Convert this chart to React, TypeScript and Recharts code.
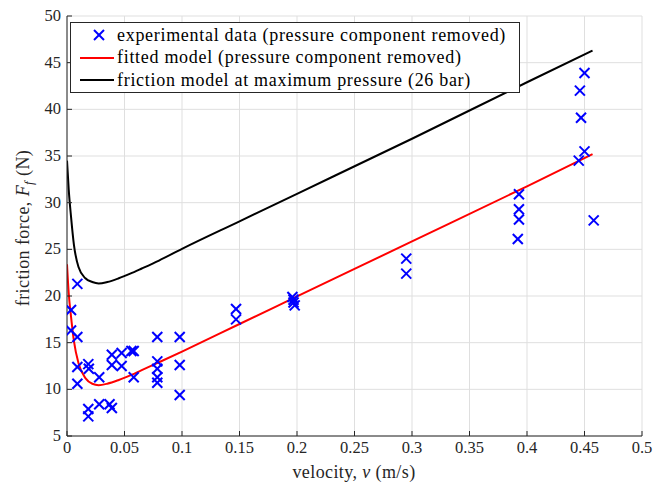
import {
  ComposedChart,
  Scatter,
  Line,
  XAxis,
  YAxis,
  CartesianGrid,
  Legend,
} from "recharts";

const xTicks = [0, 0.05, 0.1, 0.15, 0.2, 0.25, 0.3, 0.35, 0.4, 0.45, 0.5];
const xTickLabels = ["0", "0.05", "0.1", "0.15", "0.2", "0.25", "0.3", "0.35", "0.4", "0.45", "0.5"];
const yTicks = [5, 10, 15, 20, 25, 30, 35, 40, 45, 50];

// experimental data (velocity m/s, force N)
const expV = [
  0.0035, 0.0035, 0.009, 0.009, 0.009, 0.009,
  0.0185, 0.019, 0.0185, 0.0185,
  0.028, 0.028, 0.037, 0.039, 0.039, 0.039,
  0.0475, 0.0475, 0.056, 0.058, 0.058,
  0.0785, 0.0785, 0.0785, 0.0785, 0.0785,
  0.098, 0.098, 0.098,
  0.147, 0.147,
  0.196, 0.197, 0.197, 0.198,
  0.295, 0.295,
  0.393, 0.393, 0.393, 0.392,
  0.45, 0.446, 0.447, 0.45, 0.445, 0.458,
];
const expF = [
  18.5, 16.3, 21.3, 15.6, 12.4, 10.6,
  12.7, 12.2, 7.9, 7.1,
  11.3, 8.4, 8.4, 8.0, 13.7, 12.6,
  13.9, 12.5, 14.1, 14.1, 11.3,
  15.6, 13.0, 12.2, 11.3, 10.7,
  15.6, 12.6, 9.4,
  18.6, 17.5,
  19.9, 19.6, 19.3, 19.0,
  24.0, 22.4,
  30.9, 29.3, 28.2, 26.1,
  43.9, 42.0, 39.1, 35.5, 34.5, 28.1,
];

// model curves
const modelV = [0, 0.0015, 0.0035, 0.006, 0.01, 0.016, 0.022, 0.0275, 0.035, 0.045, 0.055, 0.065, 0.08, 0.1, 0.15, 0.2, 0.3, 0.4, 0.457];
const fittedF = [23.4, 20.3, 17.8, 15.2, 12.8, 11.2, 10.6, 10.45, 10.6, 11.0, 11.5, 12.05, 12.9, 14.05, 17.0, 19.95, 25.85, 31.75, 35.2];
const maxPressF = [34.5, 31.4, 28.5, 25.5, 23.1, 21.9, 21.5, 21.35, 21.5, 21.9, 22.4, 22.95, 23.8, 25.05, 28.0, 30.95, 36.85, 42.9, 46.3];

const expData = expV.map((v, i) => ({ v, f: expF[i] }));
const fittedData = modelV.map((v, i) => ({ v, f: fittedF[i] }));
const maxPressData = modelV.map((v, i) => ({ v, f: maxPressF[i] }));

const FONT = "'Liberation Serif', 'Times New Roman', serif";
const AXIS = "#262626";

const Cross = (props: any) => {
  const { cx, cy } = props;
  const s = 5;
  return (
    <g stroke="#0000ff" strokeWidth={2}>
      <line x1={cx - s} y1={cy - s} x2={cx + s} y2={cy + s} />
      <line x1={cx - s} y1={cy + s} x2={cx + s} y2={cy - s} />
    </g>
  );
};

const XTick = (props: any) => {
  const { x, y, payload } = props;
  const i = xTicks.indexOf(payload.value);
  return (
    <g>
      <line x1={x} y1={y} x2={x} y2={y - 5} stroke={AXIS} />
      <text x={x} y={y + 17} textAnchor="middle" fontFamily={FONT} fontSize={16.5} fill={AXIS}>
        {i >= 0 ? xTickLabels[i] : payload.value}
      </text>
    </g>
  );
};

const YTick = (props: any) => {
  const { x, y, payload } = props;
  return (
    <g>
      <line x1={x} y1={y} x2={x + 5} y2={y} stroke={AXIS} />
      <text x={x - 6} y={y + 5} textAnchor="end" fontFamily={FONT} fontSize={16.5} fill={AXIS}>
        {payload.value}
      </text>
    </g>
  );
};

const XLabel = () => (
  <text x={354} y={478} textAnchor="middle" fontFamily={FONT} fontSize={18} letterSpacing={0.4} fill={AXIS}>
    velocity, <tspan fontStyle="italic">v</tspan> (m/s)
  </text>
);

const YLabel = () => (
  <text
    x={29}
    y={228}
    transform="rotate(-90 29 228)"
    textAnchor="middle"
    fontFamily={FONT}
    fontSize={18}
    letterSpacing={0.4}
    fill={AXIS}
  >
    friction force, <tspan fontStyle="italic">F</tspan>
    <tspan fontStyle="italic" fontSize={13} dy={4}>f</tspan>
    <tspan dy={-4}> (N)</tspan>
  </text>
);

const legendRows = [
  { label: "experimental data (pressure component removed)", kind: "cross", color: "#0000ff" },
  { label: "fitted model (pressure component removed)", kind: "line", color: "#ff0000" },
  { label: "friction model at maximum pressure (26 bar)", kind: "line", color: "#000000" },
];

const LegendBox = () => (
  <div
    style={{
      width: 448,
      height: 68,
      border: `1px solid ${AXIS}`,
      background: "#fff",
      fontFamily: FONT,
      fontSize: 18,
      letterSpacing: "0.7px",
      color: "#000",
      paddingTop: 1,
      boxSizing: "content-box",
    }}
  >
    {legendRows.map((r) => (
      <div key={r.label} style={{ display: "flex", alignItems: "center", height: 22.5 }}>
        <svg width={46} height={22} style={{ flex: "none" }}>
          {r.kind === "cross" ? (
            <g stroke={r.color} strokeWidth={2}>
              <line x1={23} y1={6} x2={33} y2={16} />
              <line x1={23} y1={16} x2={33} y2={6} />
            </g>
          ) : (
            <line x1={9} y1={11} x2={43} y2={11} stroke={r.color} strokeWidth={2} />
          )}
        </svg>
        <span style={{ whiteSpace: "nowrap" }}>{r.label}</span>
      </div>
    ))}
  </div>
);

export default function App() {
  return (
    <div style={{ position: "absolute", left: 0, top: 0, background: "#fff" }}>
      <ComposedChart
        width={671}
        height={489}
        margin={{ top: 16, right: 29, bottom: 3, left: 27 }}
      >
        <CartesianGrid stroke="#dfdfdf" strokeWidth={1} />
        <XAxis
          type="number"
          dataKey="v"
          domain={[0, 0.5]}
          ticks={xTicks}
          tickSize={0}
          tickMargin={0}
          height={50}
          stroke={AXIS}
          tick={<XTick />}
          allowDataOverflow
          label={{ content: () => <XLabel /> }}
        />
        <YAxis
          type="number"
          dataKey="f"
          domain={[5, 50]}
          ticks={yTicks}
          tickSize={0}
          tickMargin={0}
          width={40}
          stroke={AXIS}
          tick={<YTick />}
          allowDataOverflow
          label={{ content: () => <YLabel /> }}
        />
        <Scatter
          name="experimental data (pressure component removed)"
          data={expData}
          dataKey="f"
          shape={<Cross />}
          isAnimationActive={false}
        />
        <Line
          name="fitted model (pressure component removed)"
          data={fittedData}
          dataKey="f"
          type="monotone"
          stroke="#ff0000"
          strokeWidth={2}
          dot={false}
          isAnimationActive={false}
        />
        <Line
          name="friction model at maximum pressure (26 bar)"
          data={maxPressData}
          dataKey="f"
          type="monotone"
          stroke="#000000"
          strokeWidth={2}
          dot={false}
          isAnimationActive={false}
        />
        <Legend
          layout="vertical"
          align="center"
          verticalAlign="middle"
          wrapperStyle={{ left: 70, top: 22 }}
          content={() => <LegendBox />}
        />
      </ComposedChart>
    </div>
  );
}
